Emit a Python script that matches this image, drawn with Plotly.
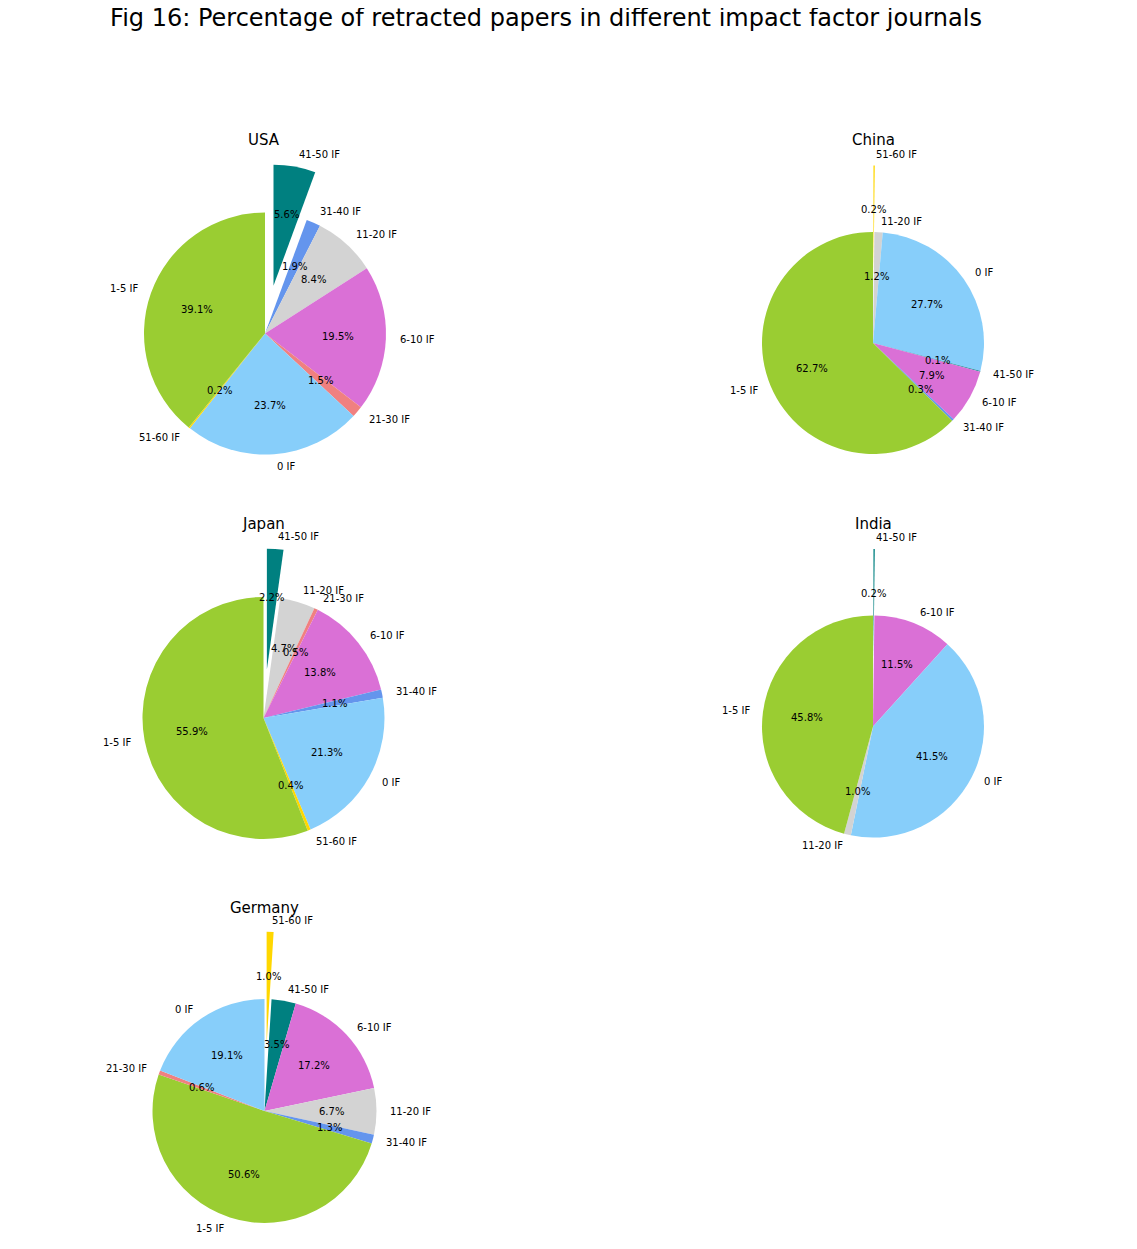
import math
import plotly.graph_objects as go

FIG_W, FIG_H = 1137, 1249
PAGE_OFFSET = 8  # the html body margin shifts the plot by this many pixels

# slices listed in the order matplotlib drew them (from 12 o'clock, counterclockwise)
usa_labels = ['1-5 IF', '51-60 IF', '0 IF', '21-30 IF', '6-10 IF', '11-20 IF', '31-40 IF', '41-50 IF']
usa_values = [39.1, 0.2, 23.7, 1.5, 19.5, 8.4, 1.9, 5.6]
usa_explode = [0, 0, 0, 0, 0, 0, 0, 0.4]

china_labels = ['1-5 IF', '31-40 IF', '6-10 IF', '41-50 IF', '0 IF', '11-20 IF', '51-60 IF']
china_values = [62.7, 0.3, 7.9, 0.1, 27.7, 1.2, 0.2]
china_explode = [0, 0, 0, 0, 0, 0, 0.6]

japan_labels = ['1-5 IF', '51-60 IF', '0 IF', '31-40 IF', '6-10 IF', '21-30 IF', '11-20 IF', '41-50 IF']
japan_values = [55.9, 0.4, 21.3, 1.1, 13.8, 0.5, 4.7, 2.2]
japan_explode = [0, 0, 0, 0, 0, 0, 0, 0.4]

india_labels = ['1-5 IF', '11-20 IF', '0 IF', '6-10 IF', '41-50 IF']
india_values = [45.8, 1.0, 41.5, 11.5, 0.2]
india_explode = [0, 0, 0, 0, 0.6]

germany_labels = ['0 IF', '21-30 IF', '1-5 IF', '31-40 IF', '11-20 IF', '6-10 IF', '41-50 IF', '51-60 IF']
germany_values = [19.1, 0.6, 50.6, 1.3, 6.7, 17.2, 3.5, 1.0]
germany_explode = [0, 0, 0, 0, 0, 0, 0, 0.6]

if_colors = {
    '0 IF': 'lightskyblue',
    '1-5 IF': 'yellowgreen',
    '6-10 IF': 'orchid',
    '11-20 IF': 'lightgray',
    '21-30 IF': 'lightcoral',
    '31-40 IF': 'cornflowerblue',
    '41-50 IF': 'teal',
    '51-60 IF': 'gold',
}
NO_FILL = 'rgba(0,0,0,0)'

# pixel centre + radius of each pie and position of its title
pie_boxes = {
    'USA': (265, 333.5, 121),
    'China': (873, 343, 111),
    'Japan': (263.5, 718, 121),
    'India': (873, 726.5, 111),
    'Germany': (264.5, 1111, 112),
}
title_pos = {
    'USA': (264, 140),
    'China': (873, 140),
    'Japan': (263, 524),
    'India': (873, 524),
    'Germany': (264.5, 908),
}

FONT = 'DejaVu Sans'
TEXT_X = (-2.0, 2.0)     # text axes extent in pie radii
TEXT_Y = (-1.25, 2.0)


def frac_x(px):
    return (px - PAGE_OFFSET) / FIG_W


def frac_y(py):
    return 1 - (py - PAGE_OFFSET) / FIG_H


def box_domain(cx, cy, half):
    return dict(x=[frac_x(cx - half), frac_x(cx + half)],
                y=[frac_y(cy + half), frac_y(cy - half)])


def mid_angles(values):
    # angle of each slice middle, degrees counterclockwise from +x (start at 12 o'clock)
    total = sum(values)
    out, acc = [], 0.0
    for v in values:
        out.append(90 + (acc + v / 2) / total * 360)
        acc += v
    return out


def add_pie(fig, n, name, labels, values, explode):
    cx, cy, r = pie_boxes[name]
    colors = [if_colors[l] for l in labels]
    angles = mid_angles(values)

    # whole pie, exploded slices left empty
    base_colors = [NO_FILL if e else c for c, e in zip(colors, explode)]
    fig.add_trace(go.Pie(labels=labels[::-1], values=values[::-1],
                         marker=dict(colors=base_colors[::-1], line=dict(width=0)),
                         domain=box_domain(cx, cy, r), sort=False, direction='clockwise',
                         textinfo='none', hoverinfo='label+value', showlegend=False))

    # exploded slices: same pie moved out along the slice middle
    for i, e in enumerate(explode):
        if not e:
            continue
        phi = math.radians(angles[i])
        ox = cx + e * r * math.cos(phi)
        oy = cy - e * r * math.sin(phi)
        one_colors = [c if j == i else NO_FILL for j, c in enumerate(colors)]
        fig.add_trace(go.Pie(labels=labels[::-1], values=values[::-1],
                             marker=dict(colors=one_colors[::-1], line=dict(width=0)),
                             domain=box_domain(ox, oy, r), sort=False, direction='clockwise',
                             textinfo='none', hoverinfo='skip', showlegend=False))

    # hidden axes with unit = pie radius, used to place the texts
    suffix = '' if n == 1 else str(n)
    fig.layout['xaxis' + suffix] = dict(
        domain=[frac_x(cx + TEXT_X[0] * r), frac_x(cx + TEXT_X[1] * r)],
        range=list(TEXT_X), visible=False, fixedrange=True)
    fig.layout['yaxis' + suffix] = dict(
        domain=[frac_y(cy - TEXT_Y[0] * r), frac_y(cy - TEXT_Y[1] * r)],
        range=list(TEXT_Y), visible=False, fixedrange=True)

    for i, (lab, v, e) in enumerate(zip(labels, values, explode)):
        phi = math.radians(angles[i])
        px_, py_ = (0.6 + e) * math.cos(phi), (0.6 + e) * math.sin(phi)
        fig.add_annotation(x=px_, y=py_, xref='x' + suffix, yref='y' + suffix,
                           text=f'{v:.1f}%', showarrow=False, xanchor='center', yanchor='middle',
                           font=dict(family=FONT, size=10, color='black'))
        lx, ly = (1.1 + e) * math.cos(phi), (1.1 + e) * math.sin(phi)
        fig.add_annotation(x=lx, y=ly, xref='x' + suffix, yref='y' + suffix,
                           text=lab, showarrow=False, xanchor='left' if lx > 0 else 'right',
                           yanchor='middle', font=dict(family=FONT, size=10, color='black'))

    tx, ty = title_pos[name]
    fig.add_annotation(x=frac_x(tx), y=frac_y(ty), xref='paper', yref='paper', text=name,
                       showarrow=False, xanchor='center', yanchor='middle',
                       font=dict(family=FONT, size=15, color='black'))


fig = go.Figure()
add_pie(fig, 1, 'USA', usa_labels, usa_values, usa_explode)
add_pie(fig, 2, 'China', china_labels, china_values, china_explode)
add_pie(fig, 3, 'Japan', japan_labels, japan_values, japan_explode)
add_pie(fig, 4, 'India', india_labels, india_values, india_explode)
add_pie(fig, 5, 'Germany', germany_labels, germany_values, germany_explode)

fig.update_layout(
    width=FIG_W, height=FIG_H,
    margin=dict(l=0, r=0, t=0, b=0),
    paper_bgcolor='white', plot_bgcolor='white',
    showlegend=False,
    title=dict(text='Fig 16: Percentage of retracted papers in different impact factor journals',
               x=frac_x(546), xanchor='center', y=frac_y(18), yanchor='middle',
               font=dict(family=FONT, size=24, color='black')),
)

fig.write_html('out.html')
